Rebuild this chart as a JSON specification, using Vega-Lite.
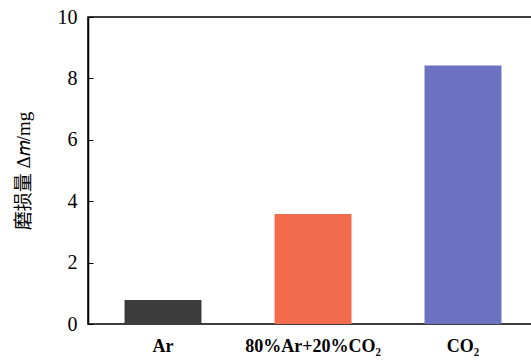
{
  "$schema": "https://vega.github.io/schema/vega-lite/v6.json",
  "width": 450,
  "height": 307,
  "autosize": "none",
  "padding": {"left": 88, "top": 17, "right": 0, "bottom": 36},
  "background": "white",
  "config": {
    "view": {"stroke": "black", "strokeWidth": 1.5},
    "font": "Liberation Serif"
  },
  "data": {
    "values": [
      {"gas": "Ar", "wear": 0.78, "color": "#3c3c3c"},
      {"gas": "80%Ar+20%CO₂", "wear": 3.58, "color": "#f26b4d"},
      {"gas": "CO₂", "wear": 8.42, "color": "#6b72c2"}
    ]
  },
  "mark": {"type": "bar", "stroke": null},
  "encoding": {
    "x": {
      "field": "gas",
      "type": "nominal",
      "sort": null,
      "scale": {"paddingInner": 0.487, "paddingOuter": 0.2435},
      "axis": {
        "title": null,
        "labelAngle": 0,
        "ticks": false,
        "domain": false,
        "labelFont": "Liberation Serif",
        "labelFontSize": 18,
        "labelFontWeight": "bold",
        "labelColor": "black",
        "labelPadding": 13
      }
    },
    "y": {
      "field": "wear",
      "type": "quantitative",
      "scale": {"domain": [0, 10], "nice": false},
      "axis": {
        "values": [0, 2, 4, 6, 8, 10],
        "title": "磨损量 Δ𝑚/mg",
        "titleFont": "Liberation Serif, Noto Sans CJK SC",
        "titleFontSize": 19,
        "titleFontWeight": "normal",
        "titleColor": "black",
        "titlePadding": 24,
        "grid": false,
        "tickSize": -5,
        "tickColor": "black",
        "domainColor": "black",
        "domainWidth": 1.5,
        "labelFont": "Liberation Serif",
        "labelFontSize": 20,
        "labelColor": "black",
        "labelPadding": 16
      }
    },
    "color": {"field": "color", "type": "nominal", "scale": null, "legend": null}
  }
}
